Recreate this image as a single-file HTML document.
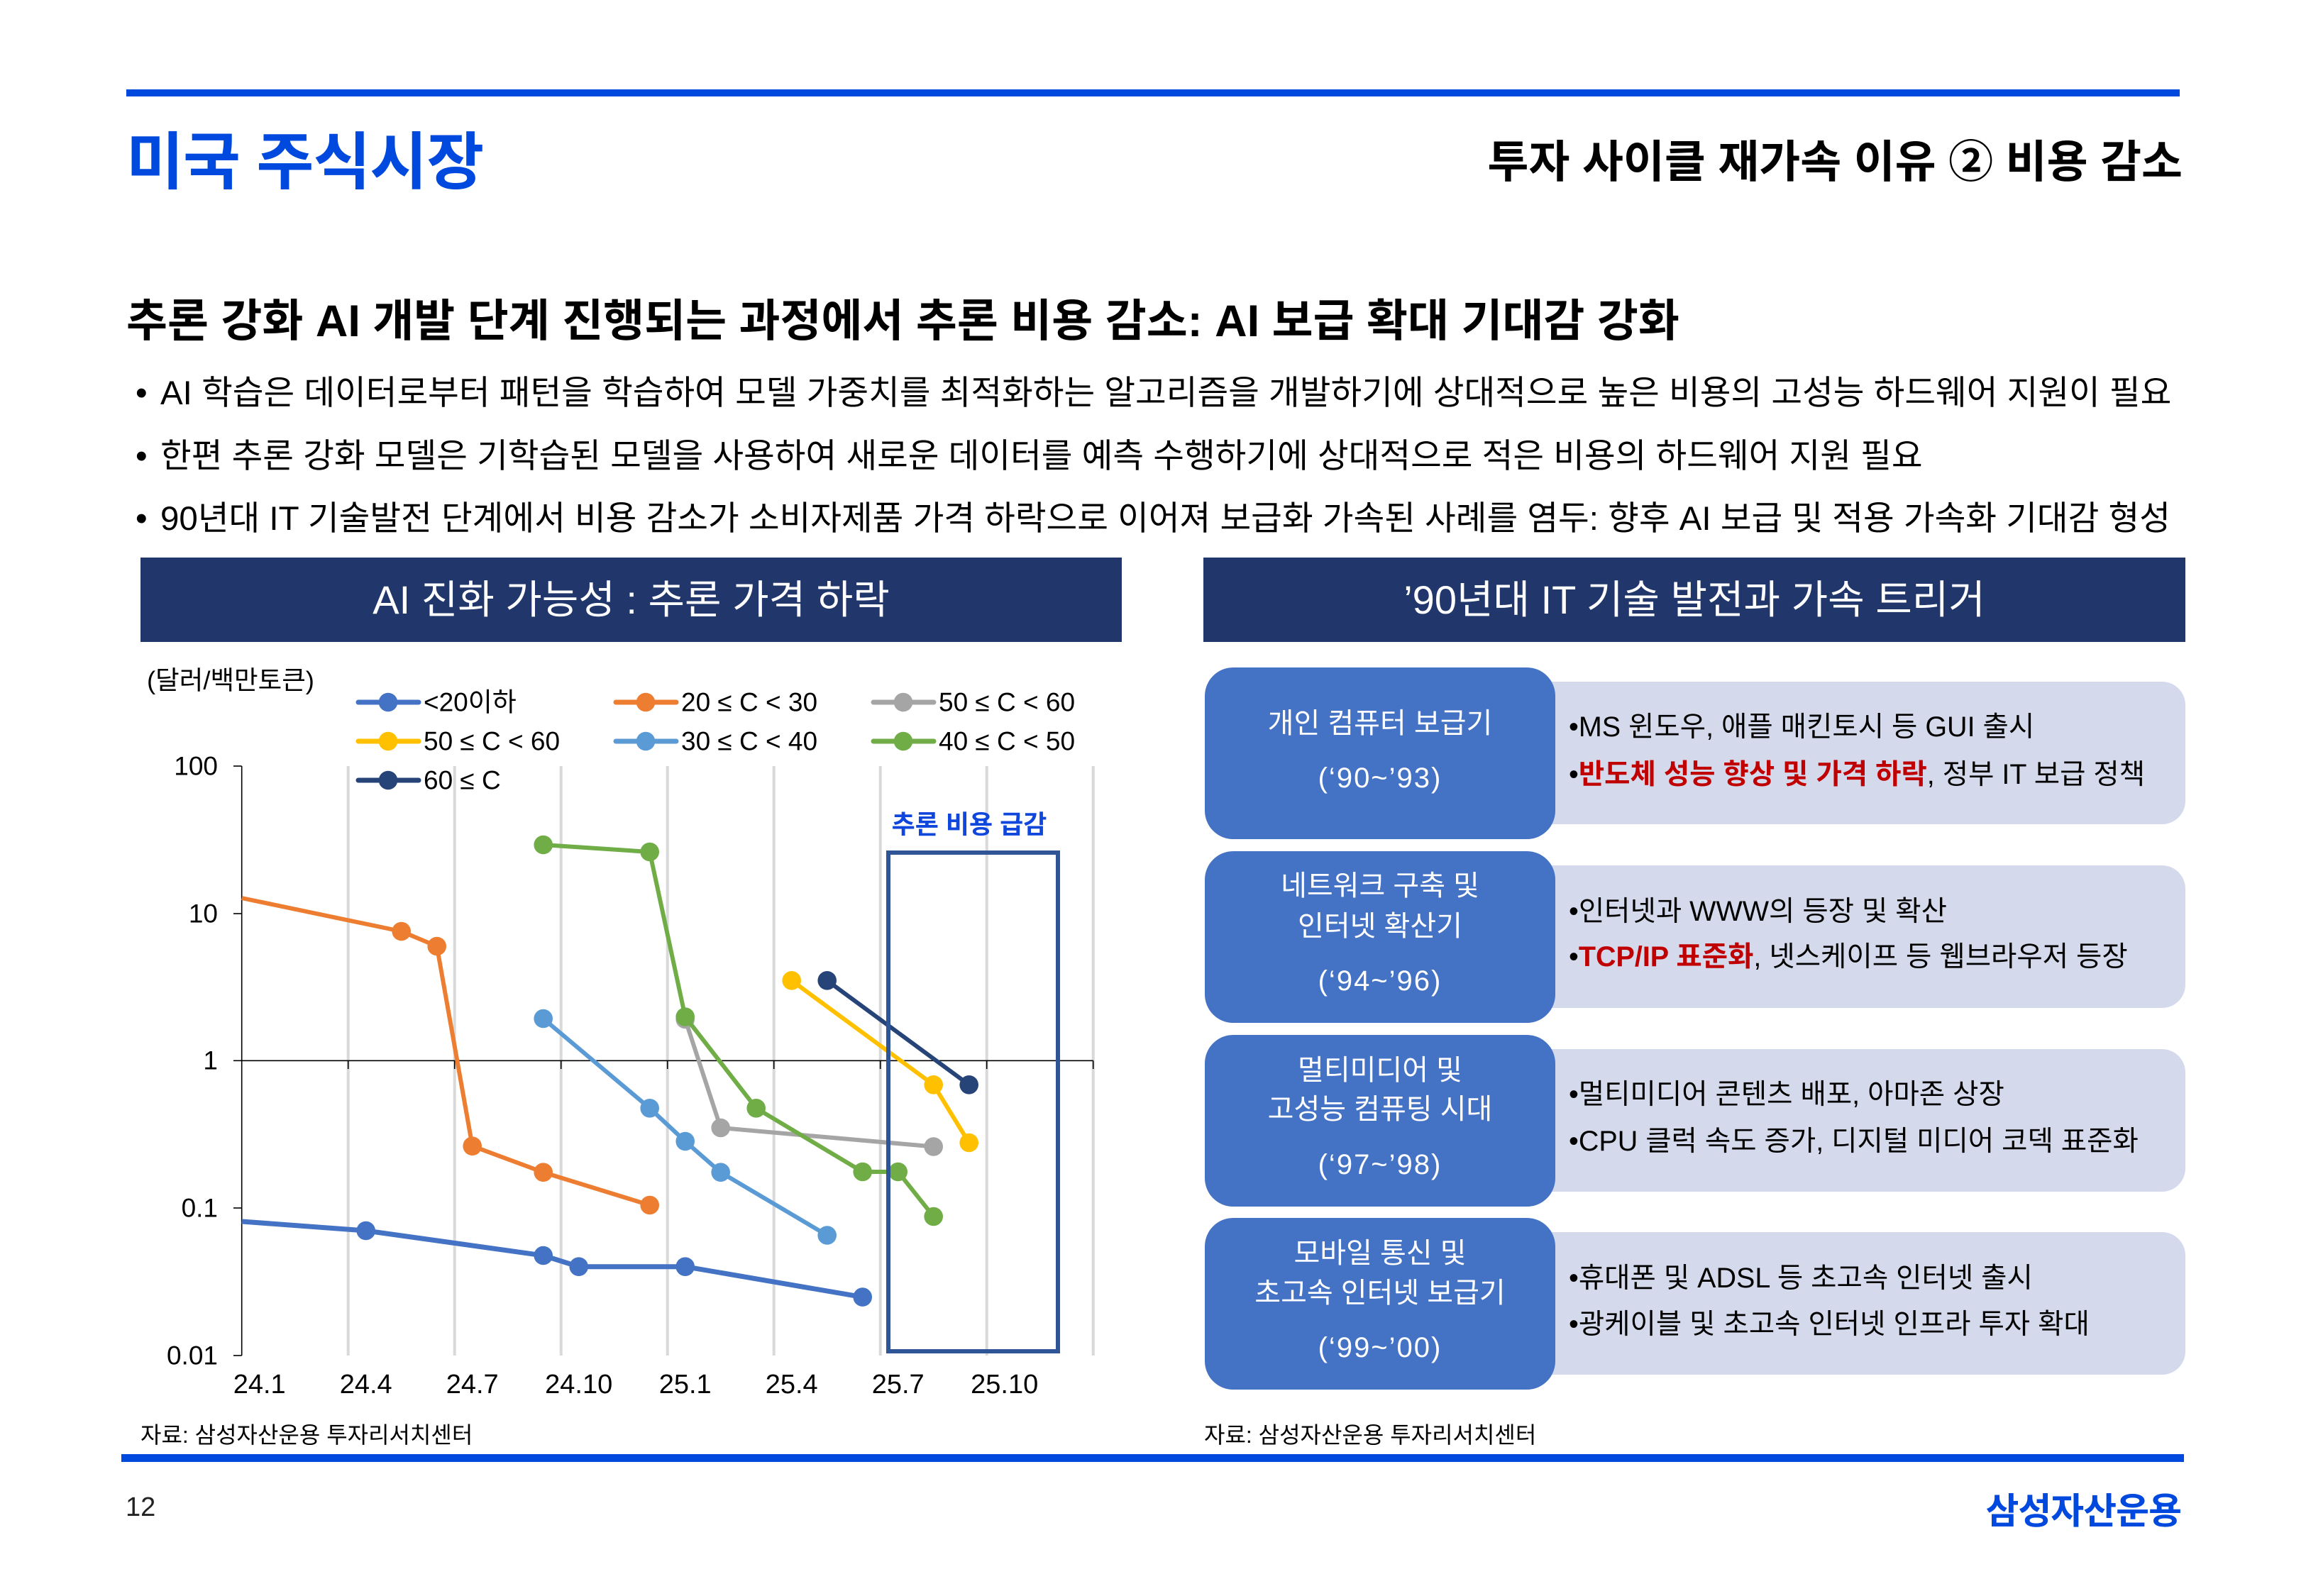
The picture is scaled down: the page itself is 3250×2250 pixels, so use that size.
<!DOCTYPE html>
<html lang="ko">
<head>
<meta charset="utf-8">
<style>
  html,body{margin:0;padding:0;}
  body{width:3250px;height:2250px;position:relative;overflow:hidden;background:#fff;
       font-family:"Liberation Sans","Noto Sans CJK KR",sans-serif;color:#000;}
  .a{position:absolute;white-space:nowrap;}
  .hdr{position:absolute;background:#21366B;color:#fff;font-size:56px;height:119px;line-height:119px;text-align:center;white-space:nowrap;}
  .dark{position:absolute;left:1698px;width:494px;height:242px;border-radius:40px;background:#4472C4;}
  .light{position:absolute;left:2150px;width:930px;height:201px;border-radius:0 33px 33px 0;background:#D4DAEC;}
  .dt{position:absolute;left:0;width:494px;text-align:center;color:#fff;font-size:40px;height:40px;line-height:40px;white-space:nowrap;}
  .dt.y{letter-spacing:2px;}
  .lt{position:absolute;left:2211px;font-size:39.5px;height:40px;line-height:40px;white-space:nowrap;color:#000;}
  .red{color:#C00000;font-weight:bold;}
  .bl{position:absolute;left:191px;font-size:47.5px;height:48px;line-height:48px;white-space:nowrap;}
  .bl span.b{display:inline-block;width:35px;}
</style>
</head>
<body>

<!-- top rule -->
<div class="a" style="left:178px;top:126px;width:2894px;height:10px;background:#0049DF;"></div>

<!-- titles -->
<div class="a" style="left:178px;top:185px;font-size:88px;line-height:88px;height:88px;font-weight:bold;color:#0049DF;letter-spacing:-1px;">미국 주식시장</div>
<div class="a" style="right:174px;top:198px;font-size:63px;line-height:63px;height:63px;font-weight:bold;color:#000;text-align:right;">투자 사이클 재가속 이유 ② 비용 감소</div>

<!-- subtitle -->
<div class="a" style="left:178px;top:422px;font-size:63px;line-height:63px;height:63px;font-weight:bold;">추론 강화 AI 개발 단계 진행되는 과정에서 추론 비용 감소: AI 보급 확대 기대감 강화</div>

<!-- bullets -->
<div class="bl" style="top:531px;"><span class="b">•</span>AI 학습은 데이터로부터 패턴을 학습하여 모델 가중치를 최적화하는 알고리즘을 개발하기에 상대적으로 높은 비용의 고성능 하드웨어 지원이 필요</div>
<div class="bl" style="top:620px;"><span class="b">•</span>한편 추론 강화 모델은 기학습된 모델을 사용하여 새로운 데이터를 예측 수행하기에 상대적으로 적은 비용의 하드웨어 지원 필요</div>
<div class="bl" style="top:708px;"><span class="b">•</span>90년대 IT 기술발전 단계에서 비용 감소가 소비자제품 가격 하락으로 이어져 보급화 가속된 사례를 염두: 향후 AI 보급 및 적용 가속화 기대감 형성</div>

<!-- section headers -->
<div class="hdr" style="left:198px;top:786px;width:1383px;">AI 진화 가능성 : 추론 가격 하락</div>
<div class="hdr" style="left:1696px;top:786px;width:1384px;">’90년대 IT 기술 발전과 가속 트리거</div>

<!-- right panel -->
<div class="light" style="top:961px;"></div>
<div class="dark" style="top:941px;">
  <div class="dt" style="top:59px;">개인 컴퓨터 보급기</div>
  <div class="dt y" style="top:136px;">(‘90~’93)</div>
</div>
<div class="lt" style="top:1005px;">•MS 윈도우, 애플 매킨토시 등 GUI 출시</div>
<div class="lt" style="top:1072px;">•<span class="red">반도체 성능 향상 및 가격 하락</span>, 정부 IT 보급 정책</div>

<div class="light" style="top:1220px;"></div>
<div class="dark" style="top:1200px;">
  <div class="dt" style="top:29px;">네트워크 구축 및</div>
  <div class="dt" style="top:86px;">인터넷 확산기</div>
  <div class="dt y" style="top:163px;">(‘94~’96)</div>
</div>
<div class="lt" style="top:1265px;">•인터넷과 WWW의 등장 및 확산</div>
<div class="lt" style="top:1329px;">•<span class="red">TCP/IP 표준화</span>, 넷스케이프 등 웹브라우저 등장</div>

<div class="light" style="top:1479px;"></div>
<div class="dark" style="top:1459px;">
  <div class="dt" style="top:30px;">멀티미디어 및</div>
  <div class="dt" style="top:85px;">고성능 컴퓨팅 시대</div>
  <div class="dt y" style="top:163px;">(‘97~’98)</div>
</div>
<div class="lt" style="top:1523px;">•멀티미디어 콘텐츠 배포, 아마존 상장</div>
<div class="lt" style="top:1589px;">•CPU 클럭 속도 증가, 디지털 미디어 코덱 표준화</div>

<div class="light" style="top:1737px;"></div>
<div class="dark" style="top:1717px;">
  <div class="dt" style="top:30px;">모바일 통신 및</div>
  <div class="dt" style="top:86px;">초고속 인터넷 보급기</div>
  <div class="dt y" style="top:163px;">(‘99~’00)</div>
</div>
<div class="lt" style="top:1782px;">•휴대폰 및 ADSL 등 초고속 인터넷 출시</div>
<div class="lt" style="top:1847px;">•광케이블 및 초고속 인터넷 인프라 투자 확대</div>

<!-- bottom rule & footer -->
<div class="a" style="left:171px;top:2050px;width:2907px;height:11px;background:#0049DF;"></div>
<div class="a" style="left:177px;top:2106px;font-size:38px;line-height:38px;height:38px;color:#222;">12</div>
<div class="a" style="right:176px;top:2105px;font-size:51px;line-height:51px;height:51px;font-weight:bold;color:#0049DF;letter-spacing:-1px;">삼성자산운용</div>

<!-- chart -->
<svg class="a" style="left:0;top:0;" width="3250" height="2250" viewBox="0 0 3250 2250" xmlns="http://www.w3.org/2000/svg"
     font-family="Liberation Sans, Noto Sans CJK KR, sans-serif">
  <!-- gridlines -->
  <g stroke="#D9D9D9" stroke-width="4">
    <line x1="490.7" y1="1080" x2="490.7" y2="1911"/>
    <line x1="640.7" y1="1080" x2="640.7" y2="1911"/>
    <line x1="790.7" y1="1080" x2="790.7" y2="1911"/>
    <line x1="940.7" y1="1080" x2="940.7" y2="1911"/>
    <line x1="1090.7" y1="1080" x2="1090.7" y2="1911"/>
    <line x1="1240.7" y1="1080" x2="1240.7" y2="1911"/>
    <line x1="1390.7" y1="1080" x2="1390.7" y2="1911"/>
    <line x1="1540.7" y1="1080" x2="1540.7" y2="1911"/>
  </g>
  <!-- axes -->
  <g stroke="#000" stroke-width="1.6">
    <line x1="340.7" y1="1080" x2="340.7" y2="1911"/>
    <line x1="329" y1="1080" x2="340.7" y2="1080"/>
    <line x1="329" y1="1288" x2="340.7" y2="1288"/>
    <line x1="329" y1="1495.3" x2="340.7" y2="1495.3"/>
    <line x1="329" y1="1703" x2="340.7" y2="1703"/>
    <line x1="329" y1="1911" x2="340.7" y2="1911"/>
    <line x1="340.7" y1="1495.3" x2="1540.7" y2="1495.3"/>
    <line x1="490.7" y1="1495.3" x2="490.7" y2="1507"/>
    <line x1="640.7" y1="1495.3" x2="640.7" y2="1507"/>
    <line x1="790.7" y1="1495.3" x2="790.7" y2="1507"/>
    <line x1="940.7" y1="1495.3" x2="940.7" y2="1507"/>
    <line x1="1090.7" y1="1495.3" x2="1090.7" y2="1507"/>
    <line x1="1240.7" y1="1495.3" x2="1240.7" y2="1507"/>
    <line x1="1390.7" y1="1495.3" x2="1390.7" y2="1507"/>
    <line x1="1540.7" y1="1495.3" x2="1540.7" y2="1507"/>
  </g>
  <!-- y labels -->
  <g font-size="37" text-anchor="end" dominant-baseline="central" fill="#000">
    <text x="307" y="1080">100</text>
    <text x="307" y="1288">10</text>
    <text x="307" y="1495">1</text>
    <text x="307" y="1703">0.1</text>
    <text x="307" y="1911">0.01</text>
  </g>
  <!-- x labels -->
  <g font-size="38" text-anchor="middle" dominant-baseline="central" fill="#000">
    <text x="365.7" y="1952">24.1</text>
    <text x="515.7" y="1952">24.4</text>
    <text x="665.7" y="1952">24.7</text>
    <text x="815.7" y="1952">24.10</text>
    <text x="965.7" y="1952">25.1</text>
    <text x="1115.7" y="1952">25.4</text>
    <text x="1265.7" y="1952">25.7</text>
    <text x="1415.7" y="1952">25.10</text>
  </g>

  <!-- series -->
  <polyline fill="none" stroke="#4472C4" stroke-width="7" stroke-linejoin="round" points="340.7,1722 515.7,1735 765.7,1770 815.7,1785.7 965.7,1785.7 1215.7,1828.6"/>
  <g fill="#4472C4">
    <circle cx="515.7" cy="1735" r="13.3"/><circle cx="765.7" cy="1770" r="13.3"/><circle cx="815.7" cy="1785.7" r="13.3"/><circle cx="965.7" cy="1785.7" r="13.3"/><circle cx="1215.7" cy="1828.6" r="13.3"/>
  </g>

  <polyline fill="none" stroke="#ED7D31" stroke-width="6" stroke-linejoin="round" points="340.7,1266 565.7,1313 615.7,1334 665.7,1615.7 765.7,1652.7 915.7,1699"/>
  <g fill="#ED7D31">
    <circle cx="565.7" cy="1313" r="13.3"/><circle cx="615.7" cy="1334" r="13.3"/><circle cx="665.7" cy="1615.7" r="13.3"/><circle cx="765.7" cy="1652.7" r="13.3"/><circle cx="915.7" cy="1699" r="13.3"/>
  </g>

  <polyline fill="none" stroke="#A5A5A5" stroke-width="6" stroke-linejoin="round" points="965.7,1437 1015.7,1590 1315.7,1616.5"/>
  <g fill="#A5A5A5">
    <circle cx="965.7" cy="1437" r="13.3"/><circle cx="1015.7" cy="1590" r="13.3"/><circle cx="1315.7" cy="1616.5" r="13.3"/>
  </g>

  <polyline fill="none" stroke="#FFC000" stroke-width="6" stroke-linejoin="round" points="1115.7,1382.3 1315.7,1529.3 1365.7,1611"/>
  <g fill="#FFC000">
    <circle cx="1115.7" cy="1382.3" r="13.3"/><circle cx="1315.7" cy="1529.3" r="13.3"/><circle cx="1365.7" cy="1611" r="13.3"/>
  </g>

  <polyline fill="none" stroke="#5B9BD5" stroke-width="6" stroke-linejoin="round" points="765.7,1436 915.7,1562.3 965.7,1609 1015.7,1652.7 1165.7,1741.5"/>
  <g fill="#5B9BD5">
    <circle cx="765.7" cy="1436" r="13.3"/><circle cx="915.7" cy="1562.3" r="13.3"/><circle cx="965.7" cy="1609" r="13.3"/><circle cx="1015.7" cy="1652.7" r="13.3"/><circle cx="1165.7" cy="1741.5" r="13.3"/>
  </g>

  <polyline fill="none" stroke="#70AD47" stroke-width="6" stroke-linejoin="round" points="765.7,1191 915.7,1201 965.7,1433.5 1065.7,1562.3 1215.7,1652 1265.7,1652 1315.7,1715"/>
  <g fill="#70AD47">
    <circle cx="765.7" cy="1191" r="13.3"/><circle cx="915.7" cy="1201" r="13.3"/><circle cx="965.7" cy="1433.5" r="13.3"/><circle cx="1065.7" cy="1562.3" r="13.3"/><circle cx="1215.7" cy="1652" r="13.3"/><circle cx="1265.7" cy="1652" r="13.3"/><circle cx="1315.7" cy="1715" r="13.3"/>
  </g>

  <polyline fill="none" stroke="#264478" stroke-width="6" stroke-linejoin="round" points="1165.7,1382.3 1365.7,1529.3"/>
  <g fill="#264478">
    <circle cx="1165.7" cy="1382.3" r="13.3"/><circle cx="1365.7" cy="1529.3" r="13.3"/>
  </g>

  <!-- highlight box -->
  <rect x="1252" y="1202" width="239" height="703" fill="none" stroke="#2F5597" stroke-width="6"/>
  <text x="1366" y="1162" font-size="36" font-weight="bold" fill="#0F46DC" text-anchor="middle" dominant-baseline="central">추론 비용 급감</text>

  <!-- unit -->
  <text x="207" y="959" font-size="36.5" fill="#000" dominant-baseline="central">(달러/백만토큰)</text>

  <!-- legend -->
  <g stroke-width="7" stroke-linecap="round">
    <line x1="505" y1="990" x2="590" y2="990" stroke="#4472C4"/>
    <line x1="868" y1="990" x2="953" y2="990" stroke="#ED7D31"/>
    <line x1="1231" y1="990" x2="1316" y2="990" stroke="#A5A5A5"/>
    <line x1="505" y1="1045" x2="590" y2="1045" stroke="#FFC000"/>
    <line x1="868" y1="1045" x2="953" y2="1045" stroke="#5B9BD5"/>
    <line x1="1231" y1="1045" x2="1316" y2="1045" stroke="#70AD47"/>
    <line x1="505" y1="1100" x2="590" y2="1100" stroke="#264478"/>
  </g>
  <circle cx="547" cy="990" r="13.3" fill="#4472C4"/>
  <circle cx="910" cy="990" r="13.3" fill="#ED7D31"/>
  <circle cx="1273" cy="990" r="13.3" fill="#A5A5A5"/>
  <circle cx="547" cy="1045" r="13.3" fill="#FFC000"/>
  <circle cx="910" cy="1045" r="13.3" fill="#5B9BD5"/>
  <circle cx="1273" cy="1045" r="13.3" fill="#70AD47"/>
  <circle cx="547" cy="1100" r="13.3" fill="#264478"/>
  <g font-size="37" fill="#000" dominant-baseline="central">
    <text x="597" y="990">&lt;20이하</text>
    <text x="960" y="990">20 ≤ C &lt; 30</text>
    <text x="1323" y="990">50 ≤ C &lt; 60</text>
    <text x="597" y="1045">50 ≤ C &lt; 60</text>
    <text x="960" y="1045">30 ≤ C &lt; 40</text>
    <text x="1323" y="1045">40 ≤ C &lt; 50</text>
    <text x="597" y="1100">60 ≤ C</text>
  </g>

  <!-- sources -->
  <g font-size="32" fill="#000" dominant-baseline="central">
    <text x="198" y="2023">자료: 삼성자산운용 투자리서치센터</text>
    <text x="1697" y="2023">자료: 삼성자산운용 투자리서치센터</text>
  </g>
</svg>

</body>
</html>
